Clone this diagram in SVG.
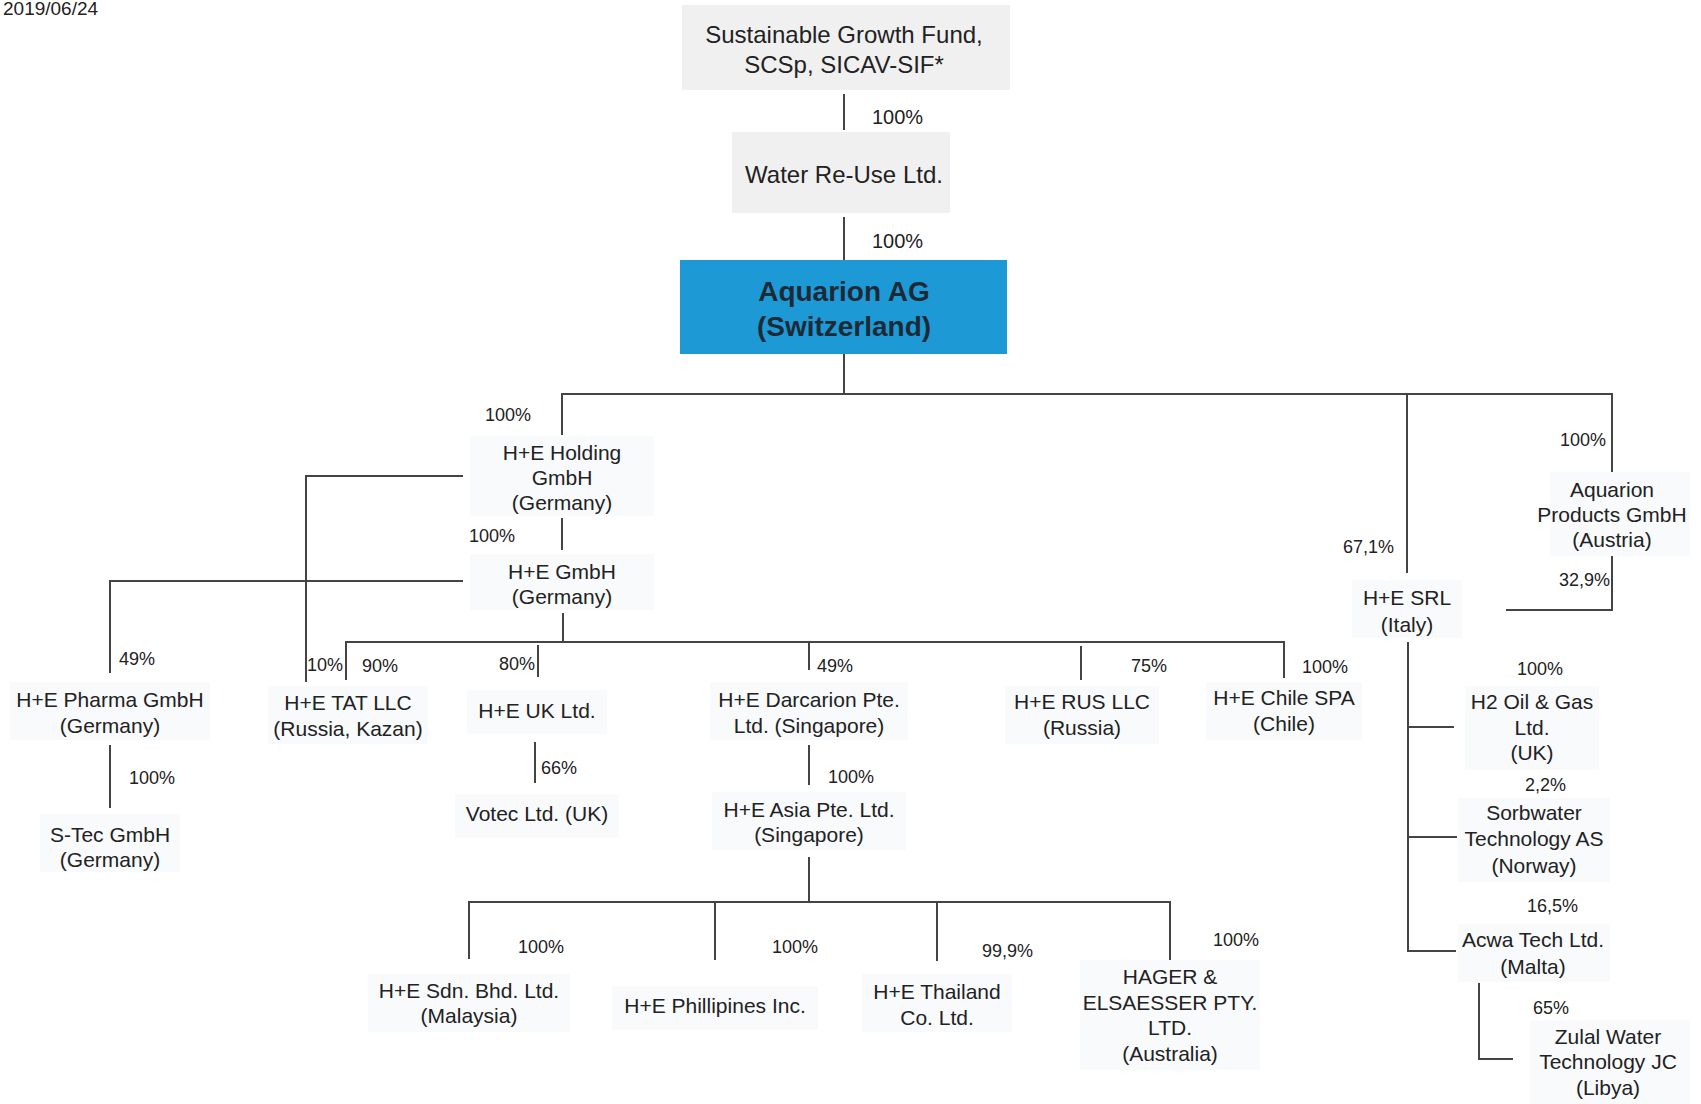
<svg xmlns="http://www.w3.org/2000/svg" width="1701" height="1104" viewBox="0 0 1701 1104">
<style>
text{font-family:"Liberation Sans",Arial,sans-serif;fill:#222}
.n{font-size:21px;text-anchor:middle}
.t{font-size:24px;text-anchor:middle}
.p{font-size:18px}
.pt{font-size:20px}
.b{font-size:28px;font-weight:bold;text-anchor:middle;fill:#1d2a36}
.bg{fill:#f8fafc}
.gb{fill:#f0f0f0}
#connectors line,#connectors polyline{stroke:#444;stroke-width:2;fill:none}
</style>
<rect width="1701" height="1104" fill="#fff"/>
<text x="3" y="15" style="font-size:19px">2019/06/24</text>

<g id="connectors">
<line x1="844" y1="94" x2="844" y2="130"/>
<line x1="844" y1="217" x2="844" y2="260"/>
<line x1="844" y1="354" x2="844" y2="394"/>
<line x1="561" y1="394" x2="1613" y2="394"/>
<line x1="562" y1="394" x2="562" y2="435"/>
<line x1="562" y1="518" x2="562" y2="550"/>
<line x1="563" y1="613" x2="563" y2="642"/>
<polyline points="463,476 306,476 306,682"/>
<polyline points="463,581 110,581 110,673"/>
<line x1="345" y1="642" x2="1285" y2="642"/>
<line x1="346" y1="642" x2="346" y2="680"/>
<line x1="538" y1="645" x2="538" y2="677"/>
<line x1="809" y1="642" x2="809" y2="670"/>
<line x1="1081" y1="646" x2="1081" y2="680"/>
<line x1="1284" y1="642" x2="1284" y2="678"/>
<line x1="110" y1="745" x2="110" y2="808"/>
<line x1="535" y1="742" x2="535" y2="783"/>
<line x1="809" y1="745" x2="809" y2="785"/>
<line x1="809" y1="857" x2="809" y2="902"/>
<line x1="468" y1="902" x2="1171" y2="902"/>
<line x1="469" y1="902" x2="469" y2="959"/>
<line x1="715" y1="902" x2="715" y2="960"/>
<line x1="937" y1="902" x2="937" y2="961"/>
<line x1="1170" y1="902" x2="1170" y2="970"/>
<line x1="1612" y1="394" x2="1612" y2="477"/>
<polyline points="1612,552 1612,610 1506,610"/>
<line x1="1407" y1="394" x2="1407" y2="573"/>
<line x1="1408" y1="642" x2="1408" y2="951"/>
<line x1="1408" y1="727" x2="1454" y2="727"/>
<line x1="1408" y1="837" x2="1457" y2="837"/>
<line x1="1407" y1="951" x2="1456" y2="951"/>
<polyline points="1479,983 1479,1059 1513,1059"/>
</g>

<g id="labels">
<text class="pt" x="872" y="124">100%</text>
<text class="pt" x="872" y="248">100%</text>
<text class="p" x="485" y="421">100%</text>
<text class="p" x="469" y="542">100%</text>
<text class="p" x="119" y="665">49%</text>
<text class="p" x="307" y="671">10%</text>
<text class="p" x="362" y="672">90%</text>
<text class="p" x="499" y="670">80%</text>
<text class="p" x="817" y="672">49%</text>
<text class="p" x="1131" y="672">75%</text>
<text class="p" x="1302" y="673">100%</text>
<text class="p" x="129" y="784">100%</text>
<text class="p" x="541" y="774">66%</text>
<text class="p" x="828" y="783">100%</text>
<text class="p" x="518" y="953">100%</text>
<text class="p" x="772" y="953">100%</text>
<text class="p" x="982" y="957">99,9%</text>
<text class="p" x="1213" y="946">100%</text>
<text class="p" x="1560" y="446">100%</text>
<text class="p" x="1559" y="586">32,9%</text>
<text class="p" x="1343" y="553">67,1%</text>
<text class="p" x="1517" y="675">100%</text>
<text class="p" x="1525" y="791">2,2%</text>
<text class="p" x="1527" y="912">16,5%</text>
<text class="p" x="1533" y="1014">65%</text>
</g>

<g id="sgf"><rect class="gb" x="682" y="5" width="328" height="85"/>
<text class="t" x="844" y="43">Sustainable Growth Fund,</text>
<text class="t" x="844" y="73">SCSp, SICAV-SIF*</text></g>

<g id="water"><rect class="gb" x="732" y="132" width="218" height="81"/>
<text class="t" x="844" y="183">Water Re-Use Ltd.</text></g>

<g id="aquarion"><rect x="680" y="260" width="327" height="94" fill="#1d9ad6"/>
<text class="b" x="844" y="301">Aquarion AG</text>
<text class="b" x="844" y="336">(Switzerland)</text></g>

<g id="holding"><rect class="bg" x="470" y="436" width="184" height="80"/>
<text class="n" x="562" y="460">H+E Holding</text>
<text class="n" x="562" y="485">GmbH</text>
<text class="n" x="562" y="510">(Germany)</text></g>

<g id="hegmbh"><rect class="bg" x="470" y="554" width="184" height="56"/>
<text class="n" x="562" y="579">H+E GmbH</text>
<text class="n" x="562" y="604">(Germany)</text></g>

<g id="pharma"><rect class="bg" x="10" y="682" width="200" height="58"/>
<text class="n" x="110" y="707">H+E Pharma GmbH</text>
<text class="n" x="110" y="733">(Germany)</text></g>

<g id="stec"><rect class="bg" x="40" y="814" width="140" height="58"/>
<text class="n" x="110" y="842">S-Tec GmbH</text>
<text class="n" x="110" y="867">(Germany)</text></g>

<g id="tat"><rect class="bg" x="268" y="686" width="160" height="58"/>
<text class="n" x="348" y="710">H+E TAT LLC</text>
<text class="n" x="348" y="736">(Russia, Kazan)</text></g>

<g id="uk"><rect class="bg" x="467" y="690" width="140" height="44"/>
<text class="n" x="537" y="718">H+E UK Ltd.</text></g>

<g id="votec"><rect class="bg" x="455" y="794" width="164" height="44"/>
<text class="n" x="537" y="821">Votec Ltd. (UK)</text></g>

<g id="darcarion"><rect class="bg" x="710" y="682" width="198" height="58"/>
<text class="n" x="809" y="707">H+E Darcarion Pte.</text>
<text class="n" x="809" y="733">Ltd. (Singapore)</text></g>

<g id="asia"><rect class="bg" x="712" y="792" width="194" height="58"/>
<text class="n" x="809" y="817">H+E Asia Pte. Ltd.</text>
<text class="n" x="809" y="842">(Singapore)</text></g>

<g id="rus"><rect class="bg" x="1005" y="686" width="154" height="58"/>
<text class="n" x="1082" y="709">H+E RUS LLC</text>
<text class="n" x="1082" y="735">(Russia)</text></g>

<g id="chile"><rect class="bg" x="1206" y="682" width="156" height="58"/>
<text class="n" x="1284" y="705">H+E Chile SPA</text>
<text class="n" x="1284" y="731">(Chile)</text></g>

<g id="products"><rect class="bg" x="1550" y="472" width="140" height="84"/>
<text class="n" x="1612" y="497">Aquarion</text>
<text class="n" x="1612" y="522">Products GmbH</text>
<text class="n" x="1612" y="547">(Austria)</text></g>

<g id="srl"><rect class="bg" x="1352" y="580" width="110" height="58"/>
<text class="n" x="1407" y="605">H+E SRL</text>
<text class="n" x="1407" y="632">(Italy)</text></g>

<g id="h2"><rect class="bg" x="1465" y="686" width="134" height="84"/>
<text class="n" x="1532" y="709">H2 Oil &amp; Gas</text>
<text class="n" x="1532" y="735">Ltd.</text>
<text class="n" x="1532" y="760">(UK)</text></g>

<g id="sorbwater"><rect class="bg" x="1458" y="798" width="152" height="84"/>
<text class="n" x="1534" y="820">Sorbwater</text>
<text class="n" x="1534" y="846">Technology AS</text>
<text class="n" x="1534" y="873">(Norway)</text></g>

<g id="acwa"><rect class="bg" x="1458" y="924" width="152" height="58"/>
<text class="n" x="1533" y="947">Acwa Tech Ltd.</text>
<text class="n" x="1533" y="974">(Malta)</text></g>

<g id="zulal"><rect class="bg" x="1530" y="1020" width="160" height="84"/>
<text class="n" x="1608" y="1044">Zulal Water</text>
<text class="n" x="1608" y="1069">Technology JC</text>
<text class="n" x="1608" y="1095">(Libya)</text></g>

<g id="sdn"><rect class="bg" x="368" y="974" width="202" height="58"/>
<text class="n" x="469" y="998">H+E Sdn. Bhd. Ltd.</text>
<text class="n" x="469" y="1023">(Malaysia)</text></g>

<g id="phil"><rect class="bg" x="612" y="986" width="206" height="44"/>
<text class="n" x="715" y="1013">H+E Phillipines Inc.</text></g>

<g id="thai"><rect class="bg" x="862" y="974" width="150" height="58"/>
<text class="n" x="937" y="999">H+E Thailand</text>
<text class="n" x="937" y="1025">Co. Ltd.</text></g>

<g id="hager"><rect class="bg" x="1080" y="960" width="180" height="110"/>
<text class="n" x="1170" y="984">HAGER &amp;</text>
<text class="n" x="1170" y="1010">ELSAESSER PTY.</text>
<text class="n" x="1170" y="1035">LTD.</text>
<text class="n" x="1170" y="1061">(Australia)</text></g>
</svg>
